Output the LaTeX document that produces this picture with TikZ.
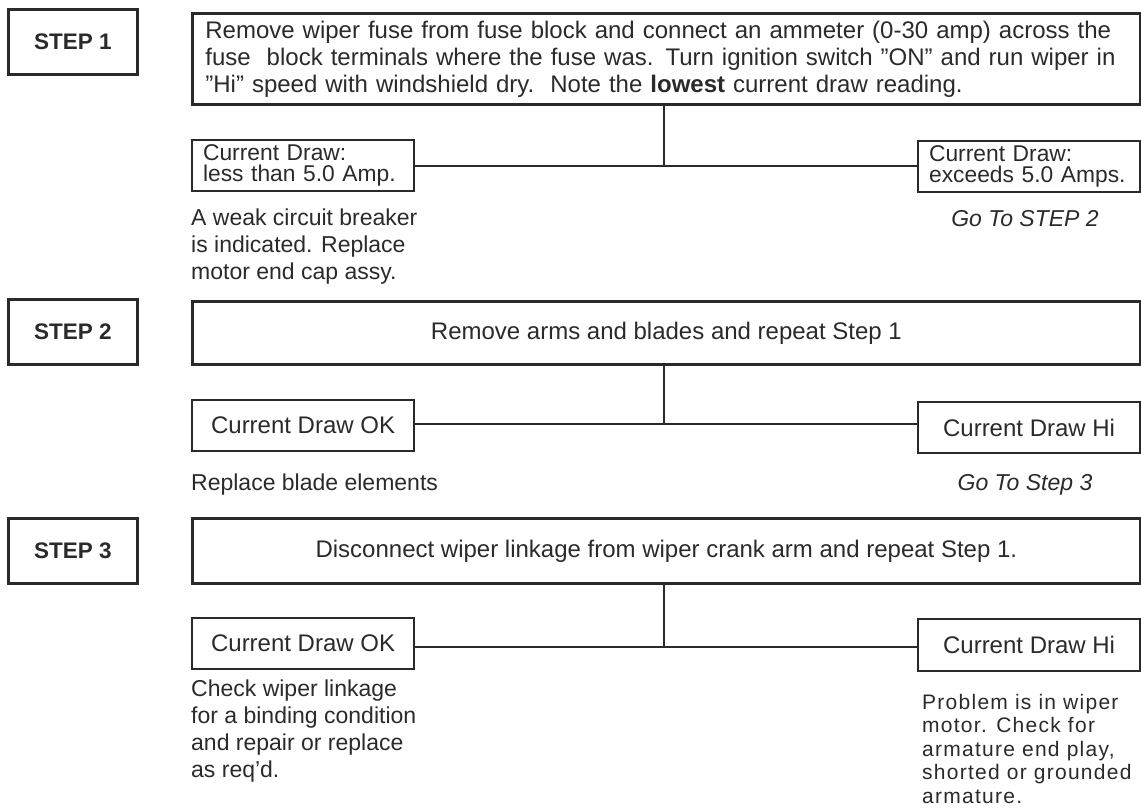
\documentclass[tikz,border=0pt]{standalone}
\usepackage{fontspec}
\setmainfont{Liberation Sans}[Ligatures=TeX]
\newfontfamily\probfont{Liberation Sans}[LetterSpace=6]
\definecolor{ink}{HTML}{2A2A2A}
\begin{document}
\begin{tikzpicture}[x=1pt,y=-1pt,
  every node/.style={text=ink, font=\fontsize{24}{27}\selectfont},
  stepbox/.style={draw=ink, line width=3pt, minimum width=129pt, minimum height=65pt,
    inner sep=0pt, anchor=north west, font=\fontsize{22.5}{24}\selectfont\bfseries},
  mainbox/.style={draw=ink, line width=2.8pt, minimum width=948pt, inner sep=0pt, anchor=north west},
  resbox/.style={draw=ink, line width=2.2pt, minimum width=222pt, minimum height=51pt,
    inner sep=0pt, anchor=north west},
  twoline/.style={align=left, text width=200pt, inner xsep=11pt, font=\fontsize{22.8}{21.5}\selectfont},
  conn/.style={draw=ink, line width=2pt},
  note/.style={align=left, anchor=north west, inner sep=0pt, font=\fontsize{23}{27}\selectfont},
  goto/.style={inner sep=0pt, anchor=base, font=\fontsize{23}{27}\selectfont\itshape},
  probnote/.style={align=left, anchor=north west, inner sep=0pt, font=\probfont\fontsize{21}{23.5}\selectfont}
]
\useasboundingbox (0,0) rectangle (1141,807);

% ---------- STEP 1 ----------
\node[stepbox] (s1) at (7,8) {STEP 1};
\node[mainbox, minimum height=91pt, align=left, text width=922pt, inner xsep=13pt] (m1) at (191,12)
  {Remove wiper fuse from fuse block and connect an ammeter (0-30 amp) across the\\
   fuse\ \ block terminals where the fuse was. Turn ignition switch ''ON'' and run wiper in\\
   ''Hi'' speed with windshield dry.\ \ Note the \textbf{lowest} current draw reading.};
\node[resbox, twoline] (l1) at (191,139) {\mbox{Current Draw:}\\\mbox{less than 5.0 Amp.}};
\node[resbox, twoline] (r1) at (917,140) {\mbox{Current Draw:}\\\mbox{exceeds 5.0 Amps.}};
\coordinate (j1) at (664,166);
\draw[conn] (m1.south -| j1) -- (j1);
\draw[conn] (l1.east |- j1) -- (r1.west |- j1);
\node[note] (n1) at (191,209) {A weak circuit breaker\\is indicated. Replace\\motor end cap assy.};
\node[goto] (g1) at (1025,226) {Go To STEP 2};

% ---------- STEP 2 ----------
\node[stepbox] (s2) at (7,298) {STEP 2};
\node[mainbox, minimum height=63pt] (m2) at (191,300) {Remove arms and blades and repeat Step 1};
\node[resbox] (l2) at (191,399) {Current Draw OK};
\node[resbox] (r2) at (917,401) {Current Draw Hi};
\coordinate (j2) at (664,424);
\draw[conn] (m2.south -| j2) -- (j2);
\draw[conn] (l2.east |- j2) -- (r2.west |- j2);
\node[note] (n2) at (191,474) {Replace blade elements};
\node[goto] (g2) at (1025,490) {Go To Step 3};

% ---------- STEP 3 ----------
\node[stepbox] (s3) at (7,517) {STEP 3};
\node[mainbox, minimum height=65pt] (m3) at (191,517) {Disconnect wiper linkage from wiper crank arm and repeat Step 1.};
\node[resbox] (l3) at (191,617) {Current Draw OK};
\node[resbox, minimum height=52pt] (r3) at (917,618) {Current Draw Hi};
\coordinate (j3) at (664,647);
\draw[conn] (m3.south -| j3) -- (j3);
\draw[conn] (l3.east |- j3) -- (r3.west |- j3);
\node[note] (n3) at (191,680) {Check wiper linkage\\for a binding condition\\and repair or replace\\as req'd.};
\node[probnote] (n4) at (922,694) {Problem is in wiper\\motor. Check for\\armature end play,\\shorted or grounded\\armature.};
\end{tikzpicture}
\end{document}
